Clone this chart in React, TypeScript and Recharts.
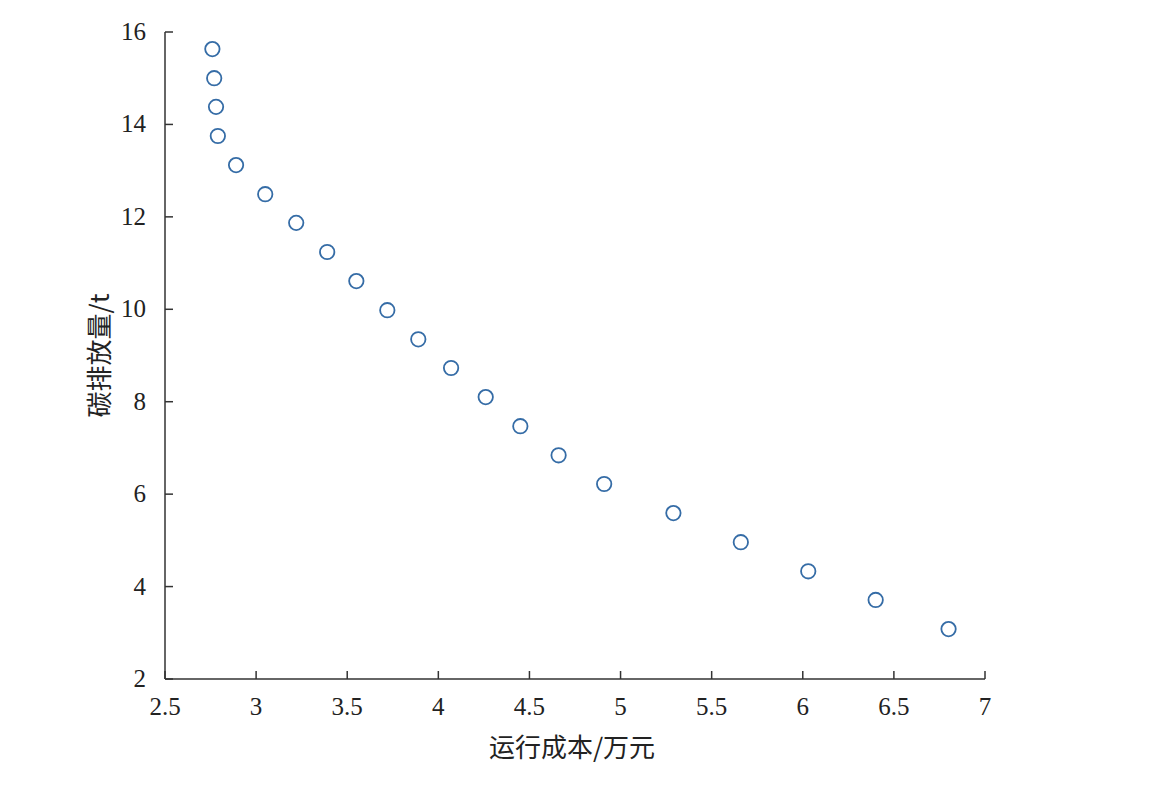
import { ScatterChart, Scatter, XAxis, YAxis, Label } from "recharts";

const runCost = [2.76, 2.77, 2.78, 2.79, 2.89, 3.05, 3.22, 3.39, 3.55, 3.72, 3.89, 4.07, 4.26, 4.45, 4.66, 4.91, 5.29, 5.66, 6.03, 6.4, 6.8];
const carbon = [15.63, 15.0, 14.38, 13.75, 13.12, 12.49, 11.87, 11.24, 10.61, 9.98, 9.35, 8.73, 8.1, 7.47, 6.84, 6.22, 5.59, 4.96, 4.33, 3.71, 3.08];
const xTicks = [2.5, 3, 3.5, 4, 4.5, 5, 5.5, 6, 6.5, 7];
const yTicks = [2, 4, 6, 8, 10, 12, 14, 16];

const data = runCost.map((x, i) => ({ x, y: carbon[i] }));

const FONT = "'Liberation Serif', 'Noto Sans CJK SC', serif";
const CJK = "'Noto Sans CJK SC', 'Liberation Serif', serif";
const AXIS = "#333333";
const MARK = "#356ca6";
const MARGIN = 10;

const XTick = (props: any) => {
  const { x, y, payload } = props;
  const axisY = y - MARGIN;
  return (
    <g>
      <line x1={x} y1={axisY} x2={x} y2={axisY - 8} stroke={AXIS} strokeWidth={1.5} />
      <text x={x} y={axisY + 36} textAnchor="middle" style={{ fontFamily: FONT, fontSize: 25 }} fill="#222">
        {payload.value}
      </text>
    </g>
  );
};

const YTick = (props: any) => {
  const { x, y, payload } = props;
  const axisX = x + MARGIN;
  return (
    <g>
      <line x1={axisX} y1={y} x2={axisX + 8} y2={y} stroke={AXIS} strokeWidth={1.5} />
      <text x={axisX - 19} y={y + 8} textAnchor="end" style={{ fontFamily: FONT, fontSize: 25 }} fill="#222">
        {payload.value}
      </text>
    </g>
  );
};

const Ring = (props: any) => (
  <circle cx={props.cx} cy={props.cy} r={7.2} fill="none" stroke={MARK} strokeWidth={1.8} />
);

export default function App() {
  return (
    <div style={{ position: "absolute", left: 0, top: 0, background: "#fff" }}>
      <ScatterChart width={1171} height={790} margin={{ top: 32, right: 186, bottom: 51, left: 85 }}>
        <XAxis
          type="number"
          dataKey="x"
          domain={[2.5, 7]}
          ticks={xTicks}
          interval={0}
          tickSize={0}
          tickMargin={MARGIN}
          tickLine={false}
          axisLine={{ stroke: AXIS, strokeWidth: 1.5 }}
          tick={<XTick />}
          height={60}
        >
          <Label
            content={(p: any) => {
              const vb = p.viewBox;
              return (
                <text x={572} y={757} textAnchor="middle" style={{ fontFamily: CJK, fontSize: 26 }} fill="#222">
                  运行成本/万元
                </text>
              );
            }}
          />
        </XAxis>
        <YAxis
          type="number"
          dataKey="y"
          domain={[2, 16]}
          ticks={yTicks}
          interval={0}
          tickSize={0}
          tickMargin={MARGIN}
          tickLine={false}
          axisLine={{ stroke: AXIS, strokeWidth: 1.5 }}
          tick={<YTick />}
          width={80}
        >
          <Label
            content={(p: any) => {
              const vb = p.viewBox;
              const cy = vb.y + vb.height / 2;
              return (
                <text
                  x={109}
                  y={cy}
                  transform={`rotate(-90, 109, ${cy})`}
                  textAnchor="middle"
                  style={{ fontFamily: CJK, fontSize: 26 }}
                  fill="#222"
                >
                  碳排放量/t
                </text>
              );
            }}
          />
        </YAxis>
        <Scatter data={data} shape={<Ring />} isAnimationActive={false} />
      </ScatterChart>
    </div>
  );
}
